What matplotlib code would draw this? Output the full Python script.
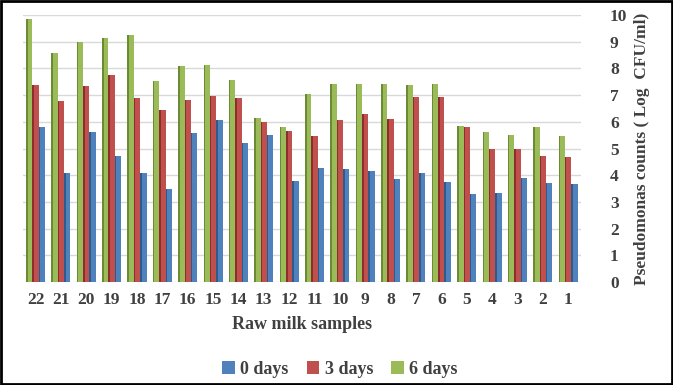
import numpy as np
import matplotlib
matplotlib.use("Agg")
import matplotlib.pyplot as plt
from matplotlib.patches import Rectangle

# Sample numbers, plotted right-to-left (22 ... 1)
samples = list(range(1, 23))

# Pseudomonas counts (Log CFU/ml), index 0 -> sample 1
day0 = [3.66, 3.70, 3.91, 3.32, 3.31, 3.75, 4.08, 3.85, 4.16, 4.22, 4.26,
        3.79, 5.52, 5.21, 6.06, 5.59, 3.50, 4.10, 4.71, 5.62, 4.07, 5.79]
day3 = [4.67, 4.71, 5.00, 4.99, 5.80, 6.92, 6.94, 6.11, 6.28, 6.08, 5.48,
        5.67, 6.00, 6.90, 6.96, 6.82, 6.45, 6.89, 7.77, 7.33, 6.79, 7.38]
day6 = [5.45, 5.79, 5.52, 5.60, 5.85, 7.40, 7.37, 7.41, 7.41, 7.41, 7.04,
        5.80, 6.15, 7.58, 8.14, 8.08, 7.51, 9.24, 9.13, 9.00, 8.59, 9.84]

series = [("0 days", day0, "#4F81BD", "#2F5A8C"),
          ("3 days", day3, "#C0504D", "#8C2F2C"),
          ("6 days", day6, "#9BBB59", "#6A8A33")]

text_col = "#404040"
plt.rcParams["font.family"] = ["Liberation Serif", "DejaVu Serif"]
plt.rcParams["font.weight"] = "bold"
plt.rcParams["axes.labelweight"] = "bold"

fig = plt.figure(figsize=(6.73, 3.85), dpi=100)
ax = fig.add_axes([0.034, 0.2675, 0.829, 0.6935])

x = np.arange(len(samples))
bw = 0.25
side = 0.06
handles = []
for i, (name, vals, col, dark) in enumerate(series):
    pos = x + (i - 1) * bw
    h = ax.bar(pos - side / 2, vals, width=bw - side, color=col, label=name, zorder=3)
    ax.bar(pos + (bw - side) / 2, vals, width=side, color=dark, zorder=3)
    handles.append(h)

ax.set_xlim(-0.5, len(samples) - 0.5)
ax.invert_xaxis()
ax.set_ylim(0, 10)
ax.set_yticks(range(0, 11))
ax.yaxis.tick_right()
ax.yaxis.set_label_position("right")
ax.set_xticks(x)
ax.set_xticklabels([str(s) for s in samples])
ax.tick_params(axis="both", length=0, labelsize=12.5, colors=text_col)
ax.tick_params(axis="y", pad=21)
ax.tick_params(axis="x", pad=7)
ax.grid(axis="y", color="#D9D9D9", linewidth=1, zorder=0)
for s in ax.spines.values():
    s.set_visible(False)

ax.set_ylabel("Pseudomonas counts ( Log  CFU/ml)", fontsize=12.5,
              fontweight="bold", color=text_col, labelpad=5)
ax.set_xlabel("Raw milk samples", fontsize=13, fontweight="bold",
              color=text_col, labelpad=6)

fig.legend(handles=handles, loc="center", bbox_to_anchor=(0.505, 0.04),
           ncol=3, frameon=False, fontsize=13, handlelength=0.7,
           handleheight=0.7, handletextpad=0.3, columnspacing=1.0,
           labelcolor=text_col)

fig.patches.append(Rectangle((0.002, 0.003), 0.996, 0.994, transform=fig.transFigure,
                             fill=False, edgecolor="black", linewidth=2))

fig.savefig("out.png", dpi=100)
